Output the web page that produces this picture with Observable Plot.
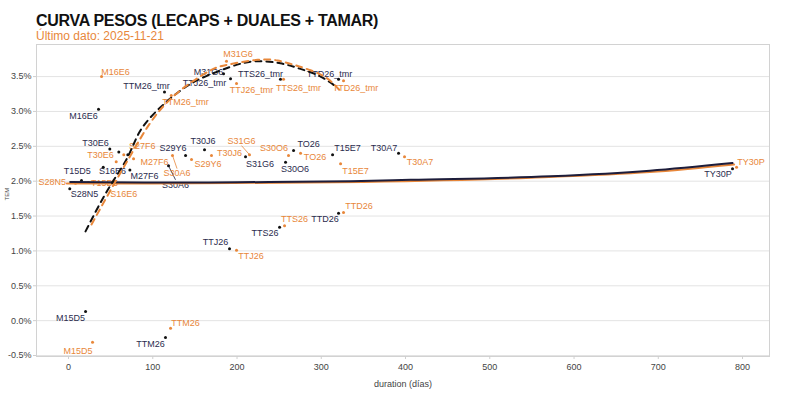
<!DOCTYPE html>
<html>
<head>
<meta charset="utf-8">
<script src="https://cdn.jsdelivr.net/npm/d3@7"></script>
<script src="https://cdn.jsdelivr.net/npm/@observablehq/plot@0.6"></script>
<style>
  html, body { margin: 0; padding: 0; background: #fff; }
  body { width: 800px; height: 396px; position: relative; overflow: hidden; font-family: "Liberation Sans", Arial, Helvetica, sans-serif; }
  #title { position: absolute; left: 36px; top: 12px; font-size: 16px; letter-spacing: -0.3px; line-height: 18px; font-weight: bold; color: #111; }
  #subtitle { position: absolute; left: 36px; top: 29px; font-size: 12px; line-height: 14px; color: #e8873a; }
  #chart { position: absolute; left: 0; top: 40px; }
</style>
</head>
<body>
<div id="title">CURVA PESOS (LECAPS + DUALES + TAMAR)</div>
<div id="subtitle">Último dato: 2025-11-21</div>
<div id="chart"></div>
<script>
// ---------- data ----------
const tickers = ["M15D5","S28N5","T15D5","M16E6","S16E6","T30E6","","S27F6","M27F6","S30A6","S29Y6","T30J6","S31G6","M31G6","S30O6","TO26","T15E7","T30A7","TY30P","TTM26","TTJ26","TTS26","TTD26","TTM26_tmr","TTJ26_tmr","TTS26_tmr","TTD26_tmr"];

// previous (dark) series
const prevDur = [20.2, 1.5, 15.4, 35.6, 41.2, 49, 59.7, 70.4, 72.8, 118.7, 138.9, 161.4, 210.1, 184, 257.6, 267.1, 313.4, 391.7, 788.1, 115.1, 191.1, 250.5, 320.5, 113.9, 192.3, 251.6, 320.5];
const prevTem = [0.13, 1.89, 2.01, 3.03, 2.20, 2.46, 2.42, 2.38, 2.16, 2.22, 2.37, 2.45, 2.35, 3.54, 2.27, 2.44, 2.38, 2.40, 2.18, -0.24, 1.03, 1.34, 1.54, 3.28, 3.47, 3.46, 3.46];
const prevLabelDur = [2.4, 19, 10.3, 17.8, 52.2, 32, null, null, 90.2, 127, 124, 159.6, 227.3, 166.2, 268.8, 284.9, 331.2, 374.5, 770.9, 97.3, 174.5, 233.2, 304.5, 92.6, 161.4, 227.9, 309.8];
const prevLabelTem = [0.04, 1.81, 2.15, 2.94, 2.14, 2.54, null, null, 2.07, 1.95, 2.47, 2.57, 2.25, 3.57, 2.18, 2.53, 2.48, 2.48, 2.10, -0.33, 1.12, 1.25, 1.45, 3.37, 3.40, 3.54, 3.54];
const prevSegments = ["S30A6"];

// latest (orange) series
const lastDur = [28.5, 8.3, 23.7, 39.2, 53.8, 56.6, null, 65.6, 77.2, 123.4, 146, 169.7, 214.8, 187.5, 261.1, 275.4, 322.9, 398.8, 792.9, 121.1, 199.4, 256.4, 326.4, 121.9, 199.4, 255.2, 326.4];
const lastTem = [-0.31, 1.97, 1.98, 3.50, 2.01, 2.28, null, 2.38, 2.32, 2.37, 2.31, 2.37, 2.38, 3.72, 2.37, 2.40, 2.25, 2.35, 2.20, -0.11, 1.01, 1.36, 1.55, 3.23, 3.40, 3.46, 3.44];
const lastLabelDur = [11.3, -19.3, 42.7, 55.8, 65.6, 38, null, 87.5, 102.1, 128.8, 165.6, 191.1, 205.3, 201.2, 243.9, 292.6, 340.7, 417.2, 810.1, 138.9, 216.6, 268.3, 344.8, 138.9, 217.2, 273, 340.7];
const lastLabelTem = [-0.43, 1.98, 1.97, 3.57, 1.81, 2.37, null, 2.51, 2.28, 2.11, 2.24, 2.40, 2.58, 3.82, 2.47, 2.34, 2.15, 2.27, 2.27, -0.04, 0.92, 1.45, 1.64, 3.13, 3.30, 3.34, 3.34];
const lastSegments = ["S30A6", "S31G6"];

// fitted curves
const prevFitDur = [2, 100, 200, 335, 406, 572, 690, 788.1];
const prevFitTem = [1.99, 1.98, 1.985, 2.0, 2.02, 2.07, 2.15, 2.26];
const lastFitDur = [-2, 60, 150, 350, 550, 690, 790];
const lastFitTem = [1.965, 1.965, 1.97, 1.99, 2.05, 2.13, 2.24];

const prevTmrDur = [20.2, 46.3, 70, 85.5, 109.2, 132.9, 156.7, 192.3, 222, 251.6, 275.4, 299.1, 319.3];
const prevTmrTem = [1.28, 1.87, 2.34, 2.73, 3.06, 3.30, 3.47, 3.64, 3.72, 3.69, 3.61, 3.50, 3.34];
const lastTmrDur = [27.3, 49.9, 73.6, 97.3, 121.1, 144.8, 168.5, 188.7, 224.3, 248.1, 267.1, 287.2, 307.4, 322.8];
const lastTmrTem = [1.38, 1.87, 2.37, 2.84, 3.18, 3.41, 3.59, 3.67, 3.74, 3.73, 3.67, 3.59, 3.47, 3.29];

const xTicks = [0, 100, 200, 300, 400, 500, 600, 700, 800];
const yTicks = [-0.5, 0, 0.5, 1.0, 1.5, 2.0, 2.5, 3.0, 3.5];

// ---------- build tables ----------
const DARK = "#1d1d3b";
const DARKTXT = "#2b2c4e";
const ORANGE = "#e8873a";

function series(dur, tem, lx, ly, segs) {
  return tickers.map((t, i) => ({name: t, x: dur[i], y: tem[i], lx: lx[i], ly: ly[i], seg: segs.includes(t)}))
    .filter(d => d.x != null && d.y != null);
}
const prev = series(prevDur, prevTem, prevLabelDur, prevLabelTem, prevSegments);
const last = series(lastDur, lastTem, lastLabelDur, lastLabelTem, lastSegments);
const zip = (a, b) => a.map((v, i) => ({x: v, y: b[i]}));
const prevFit = zip(prevFitDur, prevFitTem), lastFit = zip(lastFitDur, lastFitTem);
const prevTmr = zip(prevTmrDur, prevTmrTem), lastTmr = zip(lastTmrDur, lastTmrTem);

const labelled = s => s.filter(d => d.lx != null && d.name !== "");
const segs = s => s.filter(d => d.seg).map(d => ({...d, ey: d.ly + (d.y > d.ly ? 0.07 : -0.07)}));

const chart = Plot.plot({
  width: 800,
  height: 356,
  marginLeft: 36,
  marginRight: 31,
  marginTop: 4,
  marginBottom: 40,
  style: {fontFamily: "'Liberation Sans', Arial, Helvetica, sans-serif", fontSize: "9px", background: "white", color: "#444"},
  x: {domain: [-38, 832]},
  y: {domain: [-0.514, 3.96]},
  marks: [
    Plot.gridY(yTicks, {stroke: "#e3e3e3", strokeOpacity: 1}),
    Plot.frame({stroke: "#d2d2d2"}),
    Plot.axisY({ticks: yTicks, tickFormat: d => d.toFixed(1) + "%", tickSize: 3, tickPadding: 2, stroke: "#cfcfcf", label: null, fill: "#444"}),
    Plot.axisX({ticks: xTicks, tickSize: 3, tickPadding: 4, stroke: "#cfcfcf", label: "duration (días)", labelAnchor: "center", labelArrow: "none", labelOffset: 30, fill: "#444"}),
    Plot.text(["TEM"], {frameAnchor: "left", rotate: -90, dx: -29, fontSize: 6, fill: "#444"}),
    // label connectors
    Plot.link(segs(prev), {x1: "x", y1: "y", x2: "lx", y2: "ey", stroke: DARK, strokeWidth: 0.8}),
    Plot.link(segs(last), {x1: "x", y1: "y", x2: "lx", y2: "ey", stroke: ORANGE, strokeWidth: 0.8}),
    // labels
    Plot.text(labelled(prev), {x: "lx", y: "ly", text: "name", fill: DARKTXT, fontSize: 9}),
    Plot.text(labelled(last), {x: "lx", y: "ly", text: "name", fill: ORANGE, fontSize: 9}),
    // points
    Plot.dot(prev, {x: "x", y: "y", r: 1.5, fill: "#111", stroke: null}),
    Plot.dot(last, {x: "x", y: "y", r: 1.5, fill: ORANGE, stroke: null}),
    // fitted curves
    Plot.line(lastFit, {x: "x", y: "y", stroke: ORANGE, strokeWidth: 2, curve: "monotone-x"}),
    Plot.line(prevFit, {x: "x", y: "y", stroke: DARK, strokeWidth: 2, curve: "monotone-x"}),
    Plot.line(prevTmr, {x: "x", y: "y", stroke: "#111", strokeWidth: 2, strokeDasharray: "6,5", curve: "natural"}),
    Plot.line(lastTmr, {x: "x", y: "y", stroke: ORANGE, strokeWidth: 2, strokeDasharray: "6,5", curve: "natural"})
  ]
});
document.getElementById("chart").appendChild(chart);
</script>
</body>
</html>
